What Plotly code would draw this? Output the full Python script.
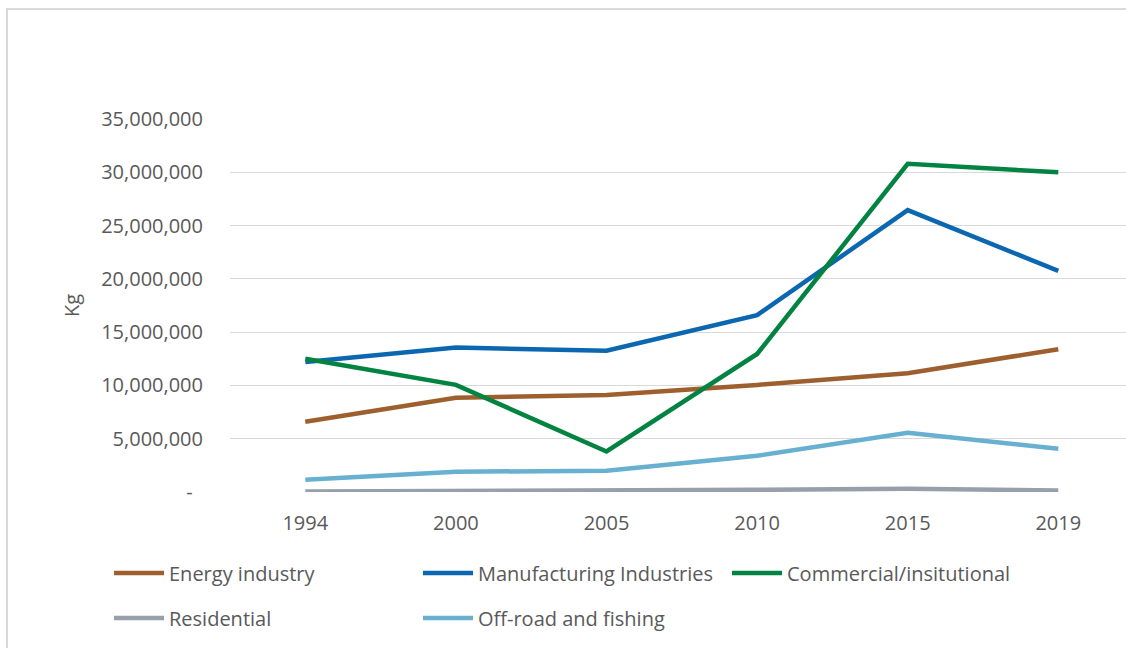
import plotly.graph_objects as go

# Categories (survey years) and emissions per sector, in kg
years = ["1994", "2000", "2005", "2010", "2015", "2019"]
energy_industry = [6.6e6, 8.85e6, 9.1e6, 10.05e6, 11.15e6, 13.4e6]
manufacturing = [12.2e6, 13.55e6, 13.25e6, 16.6e6, 26.45e6, 20.75e6]
commercial = [12.5e6, 10.05e6, 3.8e6, 12.95e6, 30.8e6, 30.0e6]
residential = [50000, 80000, 100000, 200000, 300000, 150000]
offroad_fishing = [1.15e6, 1.9e6, 2.0e6, 3.4e6, 5.55e6, 4.05e6]

y_ticks = [0, 5e6, 10e6, 15e6, 20e6, 25e6, 30e6, 35e6]
y_tick_text = ["-\u00a0\u00a0"] + [f"{int(v):,}" for v in y_ticks[1:]]

W, H = 1126, 648
ML, MR, MT, MB = 230, 0, 119, 156
PW, PH = W - ML - MR, H - MT - MB

FONT = "Open Sans"
TXT = "#595959"
GRID = "#d9d9d9"


def px_x(p):
    return (p - ML) / PW


def px_y(p):
    return (H - MB - p) / PH


series = [
    ("Energy industry", energy_industry, "#9E5F2E", "legend"),
    ("Manufacturing Industries", manufacturing, "#0C67B1", "legend"),
    ("Commercial/insitutional", commercial, "#038341", "legend"),
    ("Residential", residential, "#97A0AA", "legend2"),
    ("Off-road and fishing", offroad_fishing, "#67B0D0", "legend2"),
]

idx = list(range(len(years)))

fig = go.Figure()
for name, vals, color, leg in series:
    fig.add_trace(go.Scatter(
        x=idx, y=vals, name=name, mode="lines",
        line=dict(color=color, width=4.5),
        legend=leg, hoverinfo="skip",
    ))

legend_common = dict(
    orientation="h",
    entrywidth=244, entrywidthmode="pixels",
    font=dict(family=FONT, size=20, color=TXT),
    itemwidth=50,
    bgcolor="rgba(0,0,0,0)",
    xanchor="left", yanchor="middle",
    tracegroupgap=0,
    traceorder="normal",
)

fig.update_layout(
    width=W, height=H,
    margin=dict(l=ML, r=MR, t=MT, b=MB, autoexpand=False),
    paper_bgcolor="white", plot_bgcolor="white",
    font=dict(family=FONT, size=20, color=TXT),
    showlegend=True,
    legend=dict(x=px_x(109), y=px_y(573), **legend_common),
    legend2=dict(x=px_x(109), y=px_y(618), **legend_common),
    xaxis=dict(
        range=[-0.5, -0.5 + PW / 150.6],
        tickvals=idx, ticktext=years,
        showgrid=False, zeroline=False, showline=False,
        ticks="", ticklabelstandoff=17,
        tickfont=dict(family=FONT, size=20, color=TXT),
    ),
    yaxis=dict(
        range=[0, 35e6],
        tickvals=y_ticks, ticktext=y_tick_text,
        showgrid=True, gridcolor=GRID, gridwidth=1.3,
        zeroline=False, showline=False, ticks="",
        ticklabelstandoff=26,
        tickfont=dict(family=FONT, size=20, color=TXT),
        title=dict(text="Kg", standoff=16,
                   font=dict(family=FONT, size=20, color=TXT)),
        automargin=False,
    ),
    shapes=[dict(
        type="rect", xref="paper", yref="paper",
        x0=px_x(7), x1=px_x(W + 20), y0=px_y(H + 20), y1=px_y(9),
        line=dict(color=GRID, width=2), fillcolor="rgba(0,0,0,0)",
        layer="below",
    )],
)

fig.write_html("out.html")
